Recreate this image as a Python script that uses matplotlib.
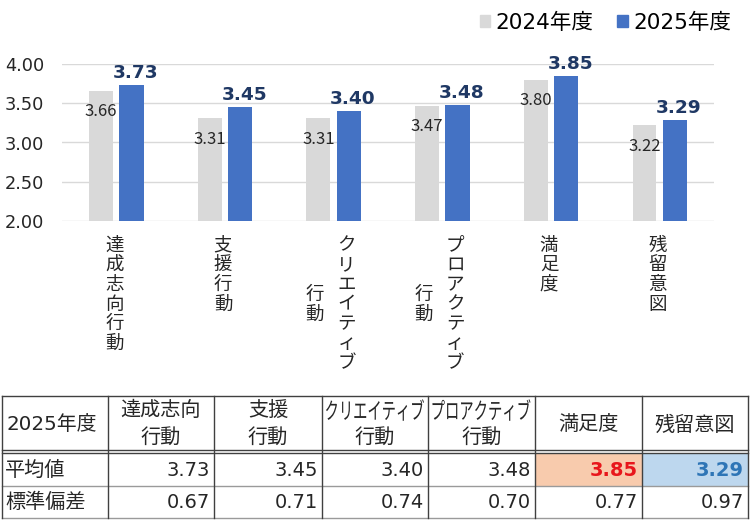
import matplotlib
matplotlib.use("Agg")
import matplotlib.pyplot as plt
from matplotlib.patches import Patch, Rectangle, PathPatch
from matplotlib.textpath import TextPath
from matplotlib.font_manager import FontProperties
from matplotlib.transforms import Affine2D
import numpy as np

plt.rcParams['font.family'] = ['DejaVu Sans', 'Noto Sans CJK JP']

# data
cat_cols = [['達成志向行動'], ['支援行動'], ['クリエイティブ', '行動'],
            ['プロアクティブ', '行動'], ['満足度'], ['残留意図']]
v2024 = [3.66, 3.31, 3.31, 3.47, 3.80, 3.22]
v2025 = [3.73, 3.45, 3.40, 3.48, 3.85, 3.29]
sd2025 = [0.67, 0.71, 0.74, 0.70, 0.77, 0.97]
series_names = ['2024年度', '2025年度']
head_top = ['達成志向', '支援', 'クリエイティブ', 'プロアクティブ', '満足度', '残留意図']
head_bot = ['行動', '行動', '行動', '行動', '', '']
row_names = ['平均値', '標準偏差']
yticks = [2.0, 2.5, 3.0, 3.5, 4.0]

c24 = '#D9D9D9'
c25 = '#4472C4'
txt = '#262626'

fig = plt.figure(figsize=(7.5, 5.26), dpi=100)
W, H = 750, 526
ax = fig.add_axes([62 / W, 1 - 221 / H, 652 / W, 157 / H])

x = np.arange(len(v2024))
ax.bar(x - 0.14, v2024, width=0.22, color=c24, zorder=2)
ax.bar(x + 0.14, v2025, width=0.225, color=c25, zorder=2)
ax.set_xlim(-0.5, len(x) - 0.5)
ax.set_ylim(2, 4)
ax.set_yticks(yticks)
ax.set_yticklabels([f'{t:.2f}' for t in yticks], fontsize=12.8, color=txt)
ax.set_xticks([])
ax.tick_params(axis='y', length=0, pad=13)
ax.yaxis.grid(True, color='#D9D9D9', lw=1)
ax.set_axisbelow(True)
for s in ax.spines.values():
    s.set_visible(False)

# value labels
for i in range(len(x)):
    ax.annotate(f'{v2024[i]:.2f}', xy=(i - 0.14, v2024[i]), xytext=(0, -21),
                textcoords='offset pixels', ha='center', va='center',
                fontsize=12, family='Noto Sans CJK JP', color=txt)
    ax.annotate(f'{v2025[i]:.2f}', xy=(i + 0.14, v2025[i]), xytext=(4, 12),
                textcoords='offset pixels', ha='center', va='center',
                fontsize=13.3, fontweight='bold', color='#1F3864')

# vertical category labels
pitch = 19.7
top_off = 24.5
for i, cols in enumerate(cat_cols):
    main = cols[0]
    xs = [-2] if len(cols) == 1 else [13, -19]
    for c, col in enumerate(cols):
        shift = (len(main) - 1) / 2 - (len(col) - 1) / 2
        for k, ch in enumerate(col):
            ax.annotate(ch, xy=(i, 2.0), xytext=(xs[c], -top_off - (k + shift) * pitch),
                        textcoords='offset pixels', ha='center', va='center',
                        fontsize=13.3, family='Noto Sans CJK JP', color=txt,
                        annotation_clip=False)

# legend
handles = [Patch(color=c24), Patch(color=c25)]
fig.legend(handles, series_names, loc='upper right', ncol=2, frameon=False,
           bbox_to_anchor=(740 / W, 1 - 4 / H), borderaxespad=0,
           handlelength=0.5, handleheight=0.5, handletextpad=0.25,
           columnspacing=1.1, fontsize=15.5)

# table
tb = fig.add_axes([0, 0, 1, 1])
tb.set_xlim(0, W)
tb.set_ylim(H, 0)
tb.axis('off')

col_x = [2, 108, 214, 322, 428, 535, 642, 748]
y_top, y_h1, y_h2, y_r1, y_bot = 396, 450, 453, 486, 518

tb.add_patch(Rectangle((col_x[5], y_h2), col_x[6] - col_x[5], y_r1 - y_h2,
                       facecolor='#F8CBAD', edgecolor='none'))
tb.add_patch(Rectangle((col_x[6], y_h2), col_x[7] - col_x[6], y_r1 - y_h2,
                       facecolor='#BDD7EE', edgecolor='none'))

dark = '#404040'
light = '#9A9A9A'
for yy, cc in [(y_top, dark), (y_h1, dark), (y_h2, dark), (y_r1, light), (y_bot, light)]:
    tb.plot([col_x[0], col_x[-1]], [yy, yy], color=cc, lw=1)
for cx in col_x:
    tb.plot([cx, cx], [y_top, y_bot], color=dark, lw=1)


def narrow_text(s, cx, cy, size_px, max_w):
    # squeeze long katakana headers to the cell width, like the original
    fp = FontProperties(family='Noto Sans CJK JP')
    tp = TextPath((0, 0), s, size=size_px, prop=fp)
    ext = tp.get_extents()
    sx = min(1.0, max_w / ext.width)
    tr = (Affine2D().translate(-(ext.x0 + ext.width / 2), -(ext.y0 + ext.height / 2))
          .scale(sx, -1).translate(cx, cy) + tb.transData)
    tb.add_patch(PathPatch(tp, transform=tr, facecolor=txt, edgecolor='none'))


tb.text(col_x[0] + 4, 425, '2025年度', ha='left', va='center', fontsize=14.3, color=txt)
for j in range(6):
    cx = (col_x[j + 1] + col_x[j + 2]) / 2
    if head_bot[j]:
        if len(head_top[j]) > 5:
            narrow_text(head_top[j], cx, 410, 23, 98)
        else:
            tb.text(cx, 410, head_top[j], ha='center', va='center', fontsize=14.5,
                    family='Noto Sans CJK JP', color=txt)
        tb.text(cx, 437, head_bot[j], ha='center', va='center', fontsize=14.5,
                family='Noto Sans CJK JP', color=txt)
    else:
        tb.text(cx, 425, head_top[j], ha='center', va='center', fontsize=14.5,
                family='Noto Sans CJK JP', color=txt)

row_y = [470, 502]
for r, name in enumerate(row_names):
    tb.text(col_x[0] + 3, row_y[r], name, ha='left', va='center', fontsize=14.5,
            family='Noto Sans CJK JP', color=txt)
for j in range(6):
    rx = col_x[j + 2] - 4
    color, weight = txt, 'normal'
    if j == 4:
        color, weight = '#E8161B', 'bold'
    elif j == 5:
        color, weight = '#2E75B6', 'bold'
    tb.text(rx, row_y[0], f'{v2025[j]:.2f}', ha='right', va='center', fontsize=14,
            color=color, fontweight=weight)
    tb.text(rx, row_y[1], f'{sd2025[j]:.2f}', ha='right', va='center', fontsize=14,
            color=txt)

fig.savefig('out.png', dpi=100)
